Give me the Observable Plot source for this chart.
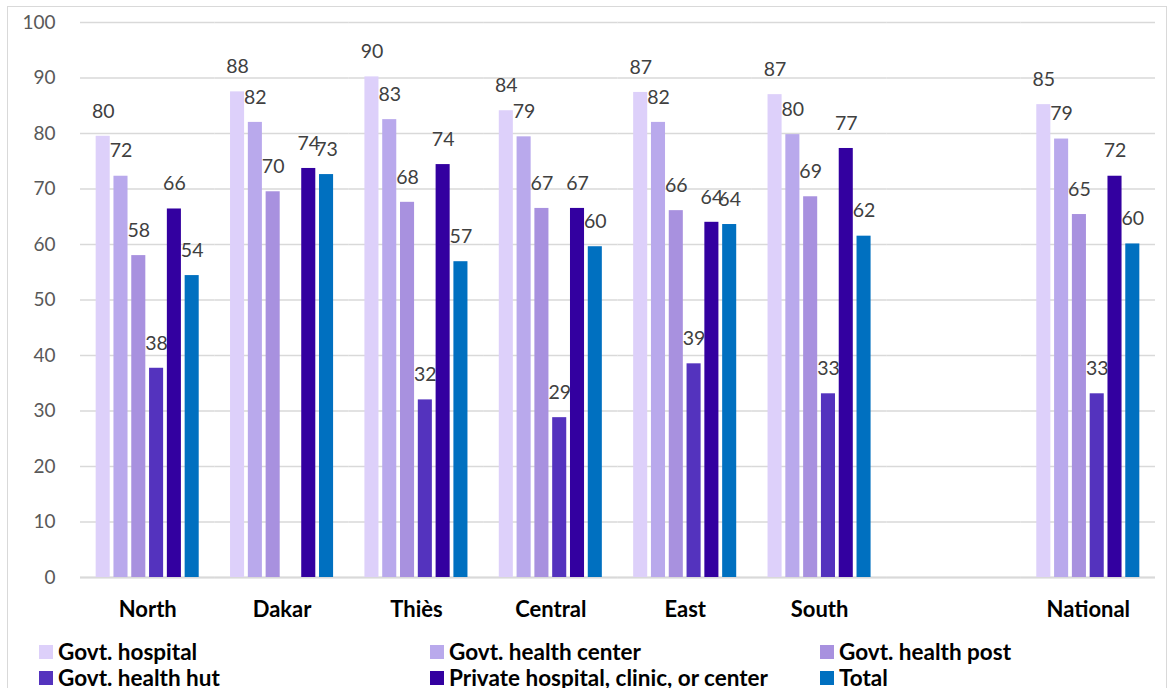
<!DOCTYPE html>
<html><head><meta charset="utf-8">
<script src="https://cdn.jsdelivr.net/npm/d3@7"></script>
<script src="https://cdn.jsdelivr.net/npm/@observablehq/plot@0.6"></script>
<style>
body{margin:0;background:#fff;font-family:Lato,sans-serif}
#wrap{position:relative;width:1171px;height:688px;overflow:hidden;background:#fff}
#border{position:absolute;left:7px;top:6px;width:1160px;height:720px;border:1px solid #d9d9d9;box-sizing:border-box}
#chart{position:absolute;left:0;top:0}
#legend{position:absolute;left:0;top:0;width:1171px;height:688px}
.item{position:absolute;display:flex;align-items:center;font-weight:bold;font-size:22.5px;line-height:26px;height:26px;color:#000;white-space:nowrap}
.sw{width:14px;height:14px;margin-right:5px;flex:none}
[aria-label="fx-axis tick label"] text{font-weight:bold;fill:#000}
[aria-label="y-axis tick label"] text{fill:#595959}
</style></head><body>
<div id="wrap"><div id="border"></div><div id="chart"></div><div id="legend"></div></div>
<script>
// Categories (the blank one is the gap before "National")
const regions = ["North", "Dakar", "Thiès", "Central", "East", "South", " ", "National"];
const series = ["Govt. hospital", "Govt. health center", "Govt. health post", "Govt. health hut", "Private hospital, clinic, or center", "Total"];
const colors = ["#DDD0FA", "#B9A9EC", "#A891DF", "#5433BE", "#3300A0", "#0070C0"];
const yTicks = [0, 10, 20, 30, 40, 50, 60, 70, 80, 90, 100];

// Series values (percent), in region order
const govtHospital     = [79.5, 87.5, 90.2, 84.1, 87.4, 87.0, null, 85.2];
const govtHealthCenter = [72.3, 82.0, 82.5, 79.4, 82.0, 79.8, null, 79.0];
const govtHealthPost   = [58.0, 69.5, 67.6, 66.5, 66.1, 68.6, null, 65.4];
const govtHealthHut    = [37.7, null, 32.0, 28.8, 38.5, 33.1, null, 33.1];
const privateFacility  = [66.4, 73.7, 74.4, 66.5, 64.0, 77.3, null, 72.3];
const total            = [54.4, 72.6, 56.9, 59.6, 63.6, 61.5, null, 60.1];

const values = [govtHospital, govtHealthCenter, govtHealthPost, govtHealthHut, privateFacility, total];
const rows = [];
regions.forEach((r, i) => series.forEach((s, j) => rows.push({region: r, series: s, value: values[j][i]})));

const plot = Plot.plot({
  width: 1171, height: 632,
  marginLeft: 80, marginRight: 16, marginTop: 22, marginBottom: 55,
  style: {fontFamily: "Lato, sans-serif", fontSize: "19px", background: "transparent", overflow: "visible"},
  fx: {domain: regions, padding: 0, round: false, label: null},
  x: {domain: series, paddingInner: 0.21, paddingOuter: 0.88, round: false, axis: null},
  y: {domain: [0, 100], label: null},
  color: {domain: series, range: colors},
  marks: [
    Plot.ruleY(yTicks, {stroke: "#d9d9d9", strokeWidth: 1.3}),
    Plot.ruleY([0], {stroke: "#d9d9d9", strokeWidth: 2}),
    Plot.barY(rows, {fx: "region", x: "series", y: "value", fill: "series"}),
    Plot.text(rows, {fx: "region", x: "series", y: "value",
      text: d => d.value == null ? null : String(Math.round(d.value)),
      dy: -25, lineAnchor: "middle", fill: "#404040", fontSize: 19.5}),
    Plot.axisY({ticks: yTicks, tickSize: 0, tickPadding: 25, fontSize: 19, color: "#595959", label: null}),
    Plot.axisFx({anchor: "bottom", tickSize: 0, tickPadding: 24, fontSize: 22, fontWeight: "bold", color: "#000", label: null})
  ]
});
document.getElementById("chart").appendChild(plot);

// Legend
const legendCols = [39, 430, 820];
const legendRows = [652, 678];
const lg = document.getElementById("legend");
series.forEach((s, i) => {
  const it = document.createElement("div");
  it.className = "item";
  it.style.left = legendCols[i % 3] + "px";
  it.style.top = (legendRows[Math.floor(i / 3)] - 13) + "px";
  const sw = document.createElement("span");
  sw.className = "sw";
  sw.style.background = colors[i];
  it.appendChild(sw);
  it.appendChild(document.createTextNode(s));
  lg.appendChild(it);
});
</script>
</body></html>
